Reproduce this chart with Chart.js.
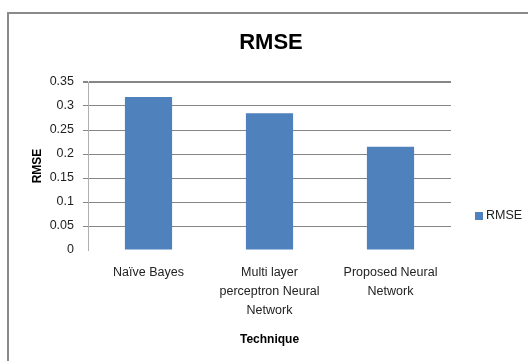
<!DOCTYPE html>
<html>
<head>
<meta charset="utf-8">
<script src="https://cdn.jsdelivr.net/npm/chart.js@4"></script>
<style>
    html, body { margin: 0; padding: 0; background: #fff; }
    #chart { display: block; }
</style>
</head>
<body>
<canvas id="chart" width="528" height="361"></canvas>
<script>
// RMSE by technique
const categories = [
    'Naïve Bayes',
    ['Multi layer', 'perceptron Neural', 'Network'],
    ['Proposed Neural', 'Network']
];
const rmseValues = [0.319, 0.285, 0.215];
const seriesName = 'RMSE';
const yTicks = { min: 0, max: 0.35, step: 0.05 };

const FONT = "'Liberation Sans', Arial, sans-serif";
const GRID = '#868686';

// frame + legend drawn around the chart
const framePlugin = {
    id: 'frame',
    beforeDraw(chart) {
        const ctx = chart.ctx;
        ctx.save();
        ctx.strokeStyle = '#8a8a8a';
        ctx.lineWidth = 2;
        ctx.beginPath();
        ctx.moveTo(8, 361);
        ctx.lineTo(8, 13);
        ctx.lineTo(528, 13);
        ctx.stroke();
        ctx.restore();
    },
    afterDraw(chart) {
        const ctx = chart.ctx;
        const ds = chart.data.datasets[0];
        const x = chart.chartArea.right + 24;
        const y = 216;
        ctx.save();
        ctx.fillStyle = ds.backgroundColor;
        ctx.fillRect(x, y - 4, 8, 8);
        ctx.fillStyle = '#222';
        ctx.font = '12.5px ' + FONT;
        ctx.textBaseline = 'middle';
        ctx.fillText(ds.label, x + 11, y);
        ctx.restore();
    }
};

new Chart(document.getElementById('chart').getContext('2d'), {
    type: 'bar',
    data: {
        labels: categories,
        datasets: [{
            label: seriesName,
            data: rmseValues,
            backgroundColor: '#4f81bd',
            borderWidth: 0,
            barPercentage: 0.39,
            categoryPercentage: 1
        }]
    },
    options: {
        responsive: false,
        animation: false,
        devicePixelRatio: 1,
        layout: { padding: { left: 14, right: 0, top: 0, bottom: 0 } },
        plugins: {
            legend: { display: false },
            tooltip: { enabled: false },
            title: {
                display: true,
                text: 'RMSE',
                color: '#000',
                font: { family: FONT, size: 22, weight: 'bold', lineHeight: 1.2 },
                padding: { top: 30, bottom: 25.6 }
            }
        },
        scales: {
            x: {
                grid: { display: false, drawTicks: false },
                border: { display: false },
                ticks: {
                    color: '#222',
                    padding: 13,
                    maxRotation: 0,
                    autoSkip: false,
                    font: { family: FONT, size: 12.5, lineHeight: '19px' }
                },
                title: {
                    display: true,
                    text: 'Technique',
                    color: '#000',
                    font: { family: FONT, size: 12, weight: 'bold', lineHeight: 1.2 },
                    padding: { top: 0, bottom: 14 }
                },
                afterFit: (scale) => { scale.height = 111; }
            },
            y: {
                min: yTicks.min,
                max: yTicks.max,
                grid: {
                    color: (c) => (c.tick && c.tick.value === 0 ? 'rgba(0,0,0,0)' : GRID),
                    lineWidth: (c) => (c.tick && c.tick.value === yTicks.max ? 2 : 1),
                    tickLength: 5,
                    drawTicks: true
                },
                border: { display: true, color: '#b0b0b0', width: 1 },
                ticks: {
                    stepSize: yTicks.step,
                    color: '#222',
                    padding: 9,
                    font: { family: FONT, size: 12.5 },
                    callback: (v) => String(Number(v.toFixed(2)))
                },
                title: {
                    display: true,
                    text: 'RMSE',
                    color: '#000',
                    font: { family: FONT, size: 12, weight: 'bold', lineHeight: 1.2 },
                    padding: { top: 16, bottom: 0 }
                },
                afterFit: (scale) => { scale.width = 74; }
            },
            // empty right-hand space kept for the legend
            side: {
                position: 'right',
                display: true,
                grid: { display: false, drawTicks: false },
                border: { display: false },
                ticks: { display: false },
                afterFit: (scale) => { scale.width = 77; }
            }
        }
    },
    plugins: [framePlugin]
});
</script>
</body>
</html>
